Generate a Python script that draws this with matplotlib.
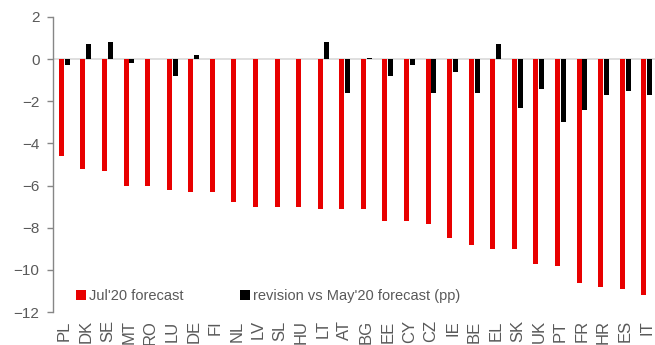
import matplotlib.pyplot as plt
import numpy as np

plt.rcParams['font.family'] = ['Liberation Sans', 'DejaVu Sans']

countries = ['PL', 'DK', 'SE', 'MT', 'RO', 'LU', 'DE', 'FI', 'NL', 'LV', 'SL', 'HU', 'LT', 'AT',
             'BG', 'EE', 'CY', 'CZ', 'IE', 'BE', 'EL', 'SK', 'UK', 'PT', 'FR', 'HR', 'ES', 'IT']
jul20 = [-4.6, -5.2, -5.3, -6.0, -6.0, -6.2, -6.3, -6.3, -6.8, -7.0, -7.0, -7.0, -7.1, -7.1,
         -7.1, -7.7, -7.7, -7.8, -8.5, -8.8, -9.0, -9.0, -9.7, -9.8, -10.6, -10.8, -10.9, -11.2]
revision = [-0.3, 0.7, 0.8, -0.2, 0.0, -0.8, 0.2, 0.0, 0.0, 0.0, 0.0, 0.0, 0.8, -1.6,
            0.05, -0.8, -0.3, -1.6, -0.6, -1.6, 0.7, -2.3, -1.4, -3.0, -2.4, -1.7, -1.5, -1.7]

grey = '#595959'
x = np.arange(len(countries))
w = 0.23

fig = plt.figure(figsize=(6.55, 3.45), dpi=100)
ax = fig.add_axes([53.5 / 655, 33 / 345, 604 / 655, 295 / 345])

ax.bar(x - w / 2 - 0.02, jul20, w, color='#e80000', label="Jul'20 forecast", zorder=3)
ax.bar(x + w / 2 + 0.02, revision, w, color='black', label="revision vs May'20 forecast (pp)", zorder=3)
ax.axhline(0, color='#d9d9d9', lw=1.2, zorder=2)

ax.set_xlim(-0.5, len(countries) - 0.5)
ax.set_ylim(-12, 2)
ax.set_yticks(range(-12, 3, 2))
ax.set_xticks(x)
ax.set_xticklabels(countries, rotation=90, va='top')
ax.tick_params(axis='x', length=0, pad=6, labelsize=12, labelcolor=grey)
ax.tick_params(axis='y', length=4, width=1, color='#868686', labelsize=11, labelcolor=grey, pad=6)

for s in ['top', 'right', 'bottom']:
    ax.spines[s].set_visible(False)
ax.spines['left'].set_color('#868686')
ax.spines['left'].set_linewidth(1)

leg = ax.legend(loc='lower left', bbox_to_anchor=(0.015, -0.015), ncol=2, frameon=False,
                fontsize=10.5, handlelength=0.7, handleheight=0.7, handletextpad=0.2,
                columnspacing=3.9, labelcolor=grey)

plt.savefig('out.png', dpi=100)
